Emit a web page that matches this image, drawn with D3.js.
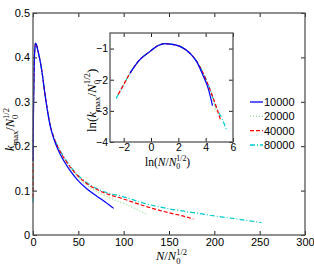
<!DOCTYPE html>
<html>
<head>
<meta charset="utf-8">
<script src="https://cdn.jsdelivr.net/npm/d3@7"></script>
<style>
  body { margin: 0; background: #fff; }
  svg { display: block; }
  .tick text { font-family: "Liberation Sans", Arial, sans-serif; font-size: 11px; fill: #000; }
  .tick line { stroke: #222; }
  .lab { font-family: "Liberation Serif", "Times New Roman", serif; font-size: 12.5px; fill: #000; }
</style>
</head>
<body>
<script>
// series names / colours
const seriesNames = ["10000", "20000", "40000", "80000"];
const seriesColors = ["#0000ff", "#90e090", "#ff0000", "#00cccc"];
const seriesDash = [null, "1,2", "4,2", "5,2,1,2"];

// main plot: N/N0^(1/2) vs kmax/N0^(1/2)
const xMain10000 = [0.22, 0.4, 0.93, 1.7, 2.8, 6, 10, 13, 19, 25, 30, 40, 50, 60, 70, 80, 89];
const yMain10000 = [0.167, 0.244, 0.336, 0.407, 0.432, 0.41, 0.366, 0.32, 0.245, 0.205, 0.182, 0.148, 0.122, 0.103, 0.088, 0.074, 0.06];
const xMain20000 = [0.12, 0.22, 0.4, 0.93, 1.7, 2.8, 6, 10, 13, 19, 25, 30, 40, 50, 60, 75, 90, 100, 112, 125];
const yMain20000 = [0.103, 0.167, 0.244, 0.336, 0.407, 0.432, 0.41, 0.366, 0.32, 0.246, 0.208, 0.186, 0.153, 0.128, 0.111, 0.093, 0.079, 0.071, 0.06, 0.047];
const xMain40000 = [0.09, 0.12, 0.22, 0.4, 0.93, 1.7, 2.8, 6, 10, 13, 19, 25, 30, 40, 50, 60, 75, 100, 125, 150, 165, 177];
const yMain40000 = [0.085, 0.103, 0.167, 0.244, 0.336, 0.407, 0.432, 0.41, 0.366, 0.32, 0.247, 0.209, 0.188, 0.156, 0.132, 0.115, 0.098, 0.081, 0.064, 0.05, 0.043, 0.036];
const xMain80000 = [0.078, 0.12, 0.22, 0.4, 0.93, 1.7, 2.8, 6, 10, 13, 19, 25, 30, 40, 50, 60, 75, 100, 125, 150, 175, 200, 225, 252];
const yMain80000 = [0.074, 0.103, 0.167, 0.244, 0.336, 0.407, 0.432, 0.41, 0.366, 0.32, 0.248, 0.21, 0.19, 0.158, 0.134, 0.117, 0.1, 0.086, 0.07, 0.059, 0.051, 0.043, 0.036, 0.028];

// inset: ln(N/N0^(1/2)) vs ln(kmax/N0^(1/2))
const lnX10000 = [-1.53, -0.93, -0.07, 0.53, 1.02, 1.39, 2.12, 2.85, 3.34, 3.82, 4.2, 4.5];
const lnY10000 = [-1.79, -1.41, -1.09, -0.9, -0.84, -0.855, -0.93, -1.15, -1.42, -1.88, -2.3, -2.83];
const lnX20000 = [-2.14, -1.53, -0.93, -0.07, 0.53, 1.02, 1.39, 2.12, 2.85, 3.34, 3.82, 4.3, 4.8];
const lnY20000 = [-2.27, -1.79, -1.41, -1.09, -0.9, -0.84, -0.855, -0.93, -1.15, -1.41, -1.82, -2.35, -3.08];
const lnX40000 = [-2.4, -2.14, -1.53, -0.93, -0.07, 0.53, 1.02, 1.39, 2.12, 2.85, 3.34, 3.82, 4.3, 4.8, 5.09];
const lnY40000 = [-2.47, -2.27, -1.79, -1.41, -1.09, -0.9, -0.84, -0.855, -0.93, -1.15, -1.41, -1.8, -2.3, -2.9, -3.3];
const lnX80000 = [-2.55, -2.14, -1.53, -0.93, -0.07, 0.53, 1.02, 1.39, 2.12, 2.85, 3.34, 3.82, 4.3, 4.8, 5.2, 5.53];
const lnY80000 = [-2.6, -2.27, -1.79, -1.41, -1.09, -0.9, -0.84, -0.855, -0.93, -1.15, -1.41, -1.78, -2.28, -2.92, -3.25, -3.62];

// ticks
const xMainTicks = [0, 50, 100, 150, 200, 250, 300];
const yMainTicks = [0, 0.1, 0.2, 0.3, 0.4, 0.5];
const xInsetTicks = [-2, 0, 2, 4, 6];
const yInsetTicks = [-1, -2, -3, -4];

const mainSeries = [
  d3.zip(xMain10000, yMain10000), d3.zip(xMain20000, yMain20000),
  d3.zip(xMain40000, yMain40000), d3.zip(xMain80000, yMain80000)
];
const insetSeries = [
  d3.zip(lnX10000, lnY10000), d3.zip(lnX20000, lnY20000),
  d3.zip(lnX40000, lnY40000), d3.zip(lnX80000, lnY80000)
];

const width = 314, height = 265;
const svg = d3.select("body").append("svg")
    .attr("width", width)
    .attr("height", height);

// axes with inward ticks on all four sides
function boxAxes(g, x, y, xt, yt, xfmt, yfmt, pad) {
    const [x0, x1] = x.range(), [y0, y1] = y.range();
    g.append("g")
        .attr("transform", `translate(0,${y0})`)
        .call(d3.axisBottom(x).tickValues(xt).tickSize(-4).tickPadding(pad).tickFormat(xfmt))
        .call(a => a.select(".domain").remove());
    g.append("g")
        .attr("transform", `translate(0,${y1})`)
        .call(d3.axisTop(x).tickValues(xt).tickSize(-4).tickFormat(""))
        .call(a => a.select(".domain").remove());
    g.append("g")
        .attr("transform", `translate(${x0},0)`)
        .call(d3.axisLeft(y).tickValues(yt).tickSize(-4).tickPadding(pad).tickFormat(yfmt))
        .call(a => a.select(".domain").remove());
    g.append("g")
        .attr("transform", `translate(${x1},0)`)
        .call(d3.axisRight(y).tickValues(yt).tickSize(-4).tickFormat(""))
        .call(a => a.select(".domain").remove());
    g.append("rect")
        .attr("x", x0).attr("y", y1)
        .attr("width", x1 - x0).attr("height", y0 - y1)
        .attr("fill", "none")
        .attr("stroke", "#555")
        .attr("stroke-width", 1.3);
}

function drawSeries(g, x, y, data) {
    const line = d3.line()
        .x(d => x(d[0]))
        .y(d => y(d[1]))
        .curve(d3.curveMonotoneX);
    // larger N first so blue sits on top
    [1, 3, 2, 0].forEach(i => {
        g.append("path")
            .datum(data[i])
            .attr("d", line)
            .attr("fill", "none")
            .attr("stroke", seriesColors[i])
            .attr("stroke-width", 1.2)
            .attr("stroke-dasharray", seriesDash[i]);
    });
}

// math label: "i" italic, "sub" subscript, "up" back to baseline, "sup" superscript stacked on the subscript
function mathLabel(t, parts, fs) {
    const ss = fs * 0.68;
    parts.forEach(p => {
        const s = t.append("tspan").text(p[0]);
        if (p[1] === "i") s.attr("font-style", "italic");
        if (p[1] === "sub") s.attr("font-size", ss + "px").attr("dy", fs * 0.28);
        if (p[1] === "up") s.attr("dy", -fs * 0.28);
        if (p[1] === "sup") s.attr("font-size", ss + "px").attr("dx", -ss * 0.5).attr("dy", -fs * 0.72);
        if (p[1] === "ret") s.attr("dy", fs * 0.44);
    });
}

// ---- main plot
const x = d3.scaleLinear().domain([0, 300]).range([33, 305]);
const y = d3.scaleLinear().domain([0, 0.5]).range([235, 13]);
const main = svg.append("g");
drawSeries(main, x, y, mainSeries);
boxAxes(main, x, y, xMainTicks, yMainTicks, d3.format("d"), d => d === 0 ? "0" : d3.format(".1f")(d), 3);

// main axis labels
mathLabel(svg.append("text").attr("class", "lab")
    .attr("x", 156).attr("y", 260),
    [["N", "i"], ["/", ""], ["N", "i"], ["0", "sub"], ["1/2", "sup"]], 12.5);
mathLabel(svg.append("text").attr("class", "lab")
    .attr("transform", "translate(14,151) rotate(-90)"),
    [["k", "i"], ["max", "sub"], ["/", "up"], ["N", "i"], ["0", "sub"], ["1/2", "sup"]], 12.5);

// ---- inset
const xi = d3.scaleLinear().domain([-3, 6]).range([110, 233]);
const yi = d3.scaleLinear().domain([-4, -0.5]).range([142, 33]);
const inset = svg.append("g");
inset.append("rect")
    .attr("x", 110).attr("y", 33)
    .attr("width", 123).attr("height", 109)
    .attr("fill", "#fff");
drawSeries(inset, xi, yi, insetSeries);
boxAxes(inset, xi, yi, xInsetTicks, yInsetTicks, d3.format("d"), d3.format("d"), 2);
inset.selectAll(".tick text").style("font-size", "10.5px");

mathLabel(svg.append("text").attr("class", "lab")
    .attr("x", 145).attr("y", 166).style("font-size", "11.5px"),
    [["ln(", ""], ["N", "i"], ["/", ""], ["N", "i"], ["0", "sub"], ["1/2", "sup"], [")", "ret"]], 11.5);
mathLabel(svg.append("text").attr("class", "lab")
    .attr("transform", "translate(96,132) rotate(-90)").style("font-size", "13px"),
    [["ln(", ""], ["k", "i"], ["max", "sub"], ["/", "up"], ["N", "i"], ["0", "sub"], ["1/2", "sup"], [")", "ret"]], 13);

// ---- legend
const legend = svg.append("g");
const legY = d3.scalePoint().domain(seriesNames).range([102, 145]);
seriesNames.forEach((n, i) => {
    legend.append("line")
        .attr("x1", 250).attr("x2", 263)
        .attr("y1", legY(n)).attr("y2", legY(n))
        .attr("stroke", seriesColors[i])
        .attr("stroke-width", 1.3)
        .attr("stroke-dasharray", seriesDash[i]);
    legend.append("text")
        .attr("x", 264).attr("y", legY(n) + 4)
        .style("font-family", "Liberation Sans, Arial, sans-serif")
        .style("font-size", "11px")
        .text(n);
});
</script>
</body>
</html>
